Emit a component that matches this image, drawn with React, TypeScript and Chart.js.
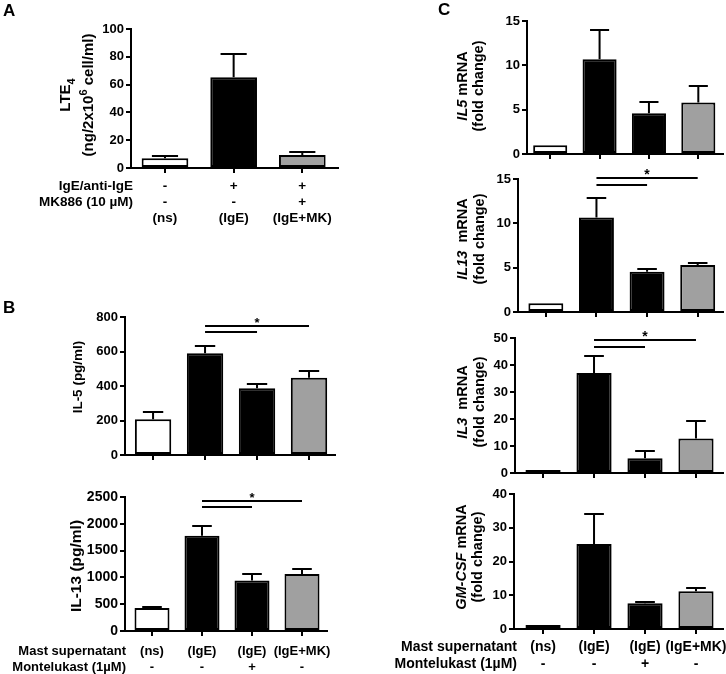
import React, { useEffect, useRef } from "react";
import { Chart, registerables } from "chart.js";
Chart.register(...registerables);

const FONT = '"Liberation Sans", Arial, Helvetica, sans-serif';
const W = 726;
const H = 674;

// ---------- data ----------
const groupsA = ["(ns)", "(IgE)", "(IgE+MK)"];
const igeRowA = ["-", "+", "+"];
const mkRowA = ["-", "-", "+"];
const lte4Mean = [7.0, 65.2, 9.3];
const lte4Upper = [8.3, 82.2, 11.7];

const groupsBC = ["(ns)", "(IgE)", "(IgE)", "(IgE+MK)"];
const monteRow = ["-", "-", "+", "-"];

const il5Mean = [207, 590, 387, 448];
const il5Upper = [247, 632, 412, 487];
const il13Mean = [430, 1778, 940, 1065];
const il13Upper = [440, 1965, 1063, 1157];

const il5mrnaMean = [1, 10.7, 4.6, 5.8];
const il5mrnaUpper = [1, 14.0, 5.9, 7.7];
const il13mrnaMean = [1, 10.65, 4.55, 5.3];
const il13mrnaUpper = [1, 12.9, 4.9, 5.55];
const il3mrnaMean = [1.1, 37, 5.5, 12.8];
const il3mrnaUpper = [1.1, 43.2, 8.1, 19.3];
const gmcsfMean = [1.2, 25.2, 7.6, 11.2];
const gmcsfUpper = [1.2, 34.1, 7.9, 12.2];

// significance brackets: [fromGroup, toGroup, yValue]
const sigIl5 = [[1, 2, 711], [1, 3, 750]];
const sigIl13 = [[1, 2, 2313], [1, 3, 2425]];
const sigIl13mrna = [[1, 2, 14.3], [1, 3, 15.07]];
const sigIl3mrna = [[1, 2, 46.8], [1, 3, 49.3]];

const fills3 = ["#ffffff", "#000000", "#a0a0a0"];
const fills4 = ["#ffffff", "#000000", "#000000", "#a0a0a0"];

type Seg = { t: string; it?: boolean; sub?: boolean; sup?: boolean };
type Row = { label?: string; labelX?: number; values: string[]; y: number };
type Panel = {
  fills: string[];
  mean: number[];
  upper: number[];
  yMax: number;
  yStep: number;
  axisX: number;
  top: number;
  bottom: number;
  right: number;
  xMin: number;
  xMax: number;
  barPct: number;
  tickSize: number;
  titleSize: number;
  rowSize: number;
  title: { segs: Seg[]; x: number }[];
  titleY: number;
  sig?: number[][];
  rows?: Row[];
  letter?: { t: string; x: number; y: number };
};

const panels: Panel[] = [
  {
    fills: fills3, mean: lte4Mean, upper: lte4Upper, yMax: 100, yStep: 20,
    axisX: 131, top: 29, bottom: 168, right: 338, xMin: -0.495, xMax: 2.52, barPct: 0.68,
    tickSize: 13, titleSize: 15, rowSize: 13.5,
    title: [
      { segs: [{ t: "LTE" }, { t: "4", sub: true }], x: 65 },
      { segs: [{ t: "(ng/2x10" }, { t: "6", sup: true }, { t: " cell/ml)" }], x: 88 },
    ],
    titleY: 95,
    rows: [
      { label: "IgE/anti-IgE", labelX: 133, values: igeRowA, y: 186 },
      { label: "MK886 (10 µM)", labelX: 133, values: mkRowA, y: 202 },
      { values: groupsA, y: 218 },
    ],
    letter: { t: "A", x: 3, y: 16 },
  },
  {
    fills: fills4, mean: il5Mean, upper: il5Upper, yMax: 800, yStep: 200,
    axisX: 125, top: 317, bottom: 455, right: 335, xMin: -0.54, xMax: 3.5, barPct: 0.7,
    tickSize: 13, titleSize: 13.5, rowSize: 13,
    title: [{ segs: [{ t: "IL-5 (pg/ml)" }], x: 77 }],
    titleY: 377,
    sig: sigIl5,
    letter: { t: "B", x: 3, y: 313 },
  },
  {
    fills: fills4, mean: il13Mean, upper: il13Upper, yMax: 2500, yStep: 500,
    axisX: 125, top: 497, bottom: 631, right: 327, xMin: -0.54, xMax: 3.5, barPct: 0.7,
    tickSize: 14, titleSize: 15.5, rowSize: 13,
    title: [{ segs: [{ t: "IL-13 (pg/ml)" }], x: 75 }],
    titleY: 566,
    sig: sigIl13,
    rows: [
      { label: "Mast supernatant", labelX: 126, values: groupsBC, y: 651 },
      { label: "Montelukast (1µM)", labelX: 126, values: monteRow, y: 667 },
    ],
  },
  {
    fills: fills4, mean: il5mrnaMean, upper: il5mrnaUpper, yMax: 15, yStep: 5,
    axisX: 527, top: 21, bottom: 154, right: 723, xMin: -0.47, xMax: 3.5, barPct: 0.69,
    tickSize: 13, titleSize: 14.5, rowSize: 14,
    title: [
      { segs: [{ t: "IL5", it: true }, { t: " mRNA" }], x: 462 },
      { segs: [{ t: "(fold change)" }], x: 478 },
    ],
    titleY: 86,
    letter: { t: "C", x: 438, y: 15 },
  },
  {
    fills: fills4, mean: il13mrnaMean, upper: il13mrnaUpper, yMax: 15, yStep: 5,
    axisX: 518, top: 179, bottom: 312, right: 723, xMin: -0.55, xMax: 3.5, barPct: 0.69,
    tickSize: 13, titleSize: 14.5, rowSize: 14,
    title: [
      { segs: [{ t: "IL13", it: true }, { t: "  mRNA" }], x: 462 },
      { segs: [{ t: "(fold change)" }], x: 479 },
    ],
    titleY: 239,
    sig: sigIl13mrna,
  },
  {
    fills: fills4, mean: il3mrnaMean, upper: il3mrnaUpper, yMax: 50, yStep: 10,
    axisX: 515, top: 338, bottom: 473, right: 723, xMin: -0.55, xMax: 3.53, barPct: 0.69,
    tickSize: 13, titleSize: 14.5, rowSize: 14,
    title: [
      { segs: [{ t: "IL3", it: true }, { t: "  mRNA" }], x: 462 },
      { segs: [{ t: "(fold change)" }], x: 479 },
    ],
    titleY: 402,
    sig: sigIl3mrna,
  },
  {
    fills: fills4, mean: gmcsfMean, upper: gmcsfUpper, yMax: 40, yStep: 10,
    axisX: 514, top: 494, bottom: 629, right: 723, xMin: -0.57, xMax: 3.53, barPct: 0.69,
    tickSize: 13, titleSize: 14.5, rowSize: 14,
    title: [
      { segs: [{ t: "GM-CSF", it: true }, { t: " mRNA" }], x: 461 },
      { segs: [{ t: "(fold change)" }], x: 477 },
    ],
    titleY: 557,
    rows: [
      { label: "Mast supernatant", labelX: 517, values: groupsBC, y: 647 },
      { label: "Montelukast (1µM)", labelX: 517, values: monteRow, y: 664 },
    ],
  },
];

function drawRich(ctx: CanvasRenderingContext2D, segs: Seg[], cx: number, cy: number, size: number) {
  ctx.save();
  ctx.translate(cx, cy);
  ctx.rotate(-Math.PI / 2);
  const parts = segs.map((s) => {
    const fs = s.sub || s.sup ? Math.round(size * 0.72) : size;
    const font = `${s.it ? "italic " : ""}bold ${fs}px ${FONT}`;
    ctx.font = font;
    return { s, font, w: ctx.measureText(s.t).width };
  });
  const total = parts.reduce((a, p) => a + p.w, 0);
  let x = -total / 2;
  ctx.textAlign = "left";
  ctx.textBaseline = "alphabetic";
  ctx.fillStyle = "#000";
  const base = size * 0.36;
  for (const p of parts) {
    ctx.font = p.font;
    const dy = p.s.sub ? size * 0.3 : p.s.sup ? -size * 0.4 : 0;
    ctx.fillText(p.s.t, x, base + dy);
    x += p.w;
  }
  ctx.restore();
}

function PanelChart({ p }: { p: Panel }) {
  const ref = useRef<HTMLCanvasElement | null>(null);
  useEffect(() => {
    if (!ref.current) return;
    const extras = {
      id: "extras",
      afterDraw(chart: any) {
        const ctx: CanvasRenderingContext2D = chart.ctx;
        const xs = chart.scales.x;
        const ys = chart.scales.y;
        const meta = chart.getDatasetMeta(0);
        ctx.save();
        ctx.strokeStyle = "#000";
        ctx.fillStyle = "#000";
        ctx.lineWidth = 2;
        // error bars
        p.mean.forEach((m, i) => {
          const u = p.upper[i];
          if (u <= m) return;
          const el = meta.data[i];
          const x = el.x;
          const half = el.width * 0.28;
          const y1 = ys.getPixelForValue(m);
          const y2 = Math.round(ys.getPixelForValue(u));
          ctx.beginPath();
          ctx.moveTo(x, y1);
          ctx.lineTo(x, y2);
          ctx.moveTo(x - half, y2);
          ctx.lineTo(x + half, y2);
          ctx.stroke();
        });
        // significance brackets
        if (p.sig) {
          let topY = Infinity;
          let starX = 0;
          p.sig.forEach(([a, b, v]) => {
            const xa = xs.getPixelForValue(a);
            const xb = xs.getPixelForValue(b);
            const y = Math.round(ys.getPixelForValue(v));
            ctx.beginPath();
            ctx.moveTo(xa, y);
            ctx.lineTo(xb, y);
            ctx.stroke();
            if (y < topY) {
              topY = y;
              starX = (xa + xb) / 2;
            }
          });
          ctx.font = `bold ${p.rowSize}px ${FONT}`;
          ctx.textAlign = "center";
          ctx.textBaseline = "alphabetic";
          ctx.fillText("*", starX, topY + 1);
        }
        // axis titles
        p.title.forEach((l) => drawRich(ctx, l.segs, l.x, p.titleY, p.titleSize));
        // rows below the axis
        ctx.font = `bold ${p.rowSize}px ${FONT}`;
        ctx.textBaseline = "middle";
        (p.rows || []).forEach((r) => {
          if (r.label) {
            ctx.textAlign = "right";
            ctx.fillText(r.label, r.labelX as number, r.y);
          }
          ctx.textAlign = "center";
          r.values.forEach((v, i) => ctx.fillText(v, xs.getPixelForValue(i), r.y));
        });
        if (p.letter) {
          ctx.font = `bold 17px ${FONT}`;
          ctx.textAlign = "left";
          ctx.textBaseline = "alphabetic";
          ctx.fillText(p.letter.t, p.letter.x, p.letter.y);
        }
        ctx.restore();
      },
    };
    const yW = 40;
    const ticksIdx = p.mean.map((_, i) => i);
    const chart = new Chart(ref.current, {
      type: "bar",
      data: {
        datasets: [
          {
            data: p.mean.map((v, i) => ({ x: i, y: v })),
            backgroundColor: p.fills,
            borderColor: "#000",
            borderWidth: 2,
            borderSkipped: false,
            barPercentage: p.barPct,
            categoryPercentage: 1,
          } as any,
        ],
      },
      options: {
        responsive: false,
        animation: false,
        devicePixelRatio: 1,
        layout: {
          padding: {
            left: p.axisX - yW,
            top: p.top,
            right: W - p.right,
            bottom: H - p.bottom - 6,
          },
        },
        plugins: { legend: { display: false }, tooltip: { enabled: false } },
        scales: {
          x: {
            type: "linear",
            offset: false,
            min: p.xMin,
            max: p.xMax,
            afterBuildTicks: (s: any) => {
              s.ticks = ticksIdx.map((v) => ({ value: v }));
            },
            afterFit: (s: any) => {
              s.height = 6;
            },
            ticks: { display: false },
            grid: { offset: false, drawOnChartArea: false, drawTicks: true, tickLength: 5, color: "#000", lineWidth: 2 },
            border: { color: "#000", width: 2 },
          },
          y: {
            type: "linear",
            min: 0,
            max: p.yMax,
            afterFit: (s: any) => {
              s.width = yW;
            },
            ticks: {
              stepSize: p.yStep,
              color: "#000",
              padding: 2,
              font: { family: FONT, size: p.tickSize, weight: "bold" },
              callback: (v: any) => String(v),
            },
            grid: { drawOnChartArea: false, drawTicks: true, tickLength: 5, color: "#000", lineWidth: 2 },
            border: { color: "#000", width: 2 },
          },
        },
      } as any,
      plugins: [extras],
    });
    return () => chart.destroy();
  }, [p]);
  return (
    <canvas
      ref={ref}
      width={W}
      height={H}
      style={{ position: "absolute", left: 0, top: 0, width: W, height: H }}
    />
  );
}

export default function App() {
  return (
    <div style={{ position: "absolute", left: 0, top: 0, width: W, height: H, background: "#fff" }}>
      {panels.map((p, i) => (
        <PanelChart key={i} p={p} />
      ))}
    </div>
  );
}
